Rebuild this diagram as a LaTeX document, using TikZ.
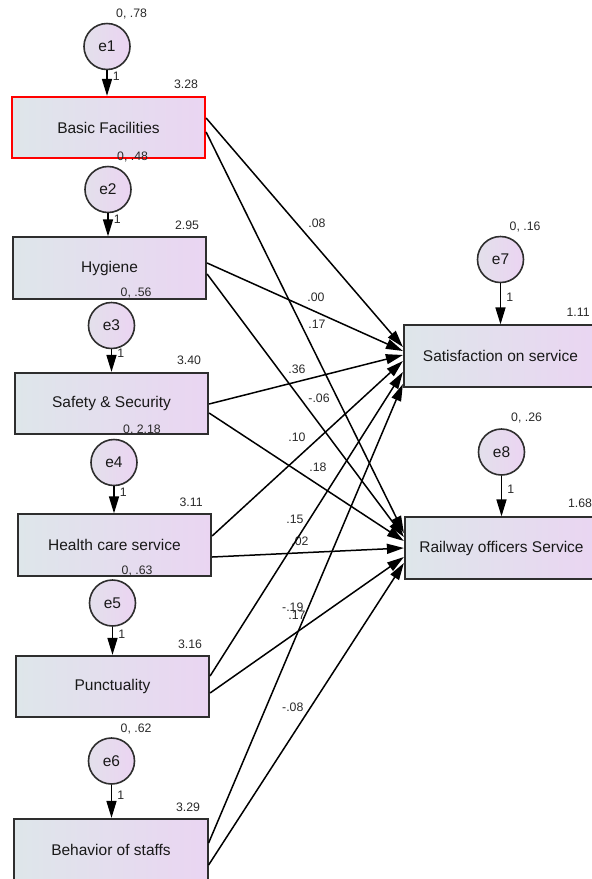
\documentclass[tikz,border=0pt]{standalone}
\usepackage{fontspec}
\setmainfont{Liberation Sans}
\usetikzlibrary{arrows.meta}

\definecolor{boxleft}{HTML}{DEE6EA}
\definecolor{boxright}{HTML}{EAD5F2}
\definecolor{circleft}{HTML}{E3E0EB}
\definecolor{circright}{HTML}{EBD4F2}
\definecolor{rimgray}{HTML}{2E2E2E}
\definecolor{valgray}{HTML}{2A2A2A}

\tikzset{
  obs/.style={draw=rimgray, line width=1.7pt, left color=boxleft, right color=boxright,
    minimum width=193.5pt, minimum height=61.5pt, inner sep=0pt, text=black!90,
    font=\fontsize{15.5}{18}\selectfont},
  err/.style={circle, draw=rimgray, line width=1.6pt, left color=circleft, right color=circright,
    minimum size=46pt, inner sep=0pt, text=black!90, font=\fontsize{15.5}{18}\selectfont},
  reg/.style={line width=1.5pt, -{Triangle[length=17pt,width=10pt]}},
  val/.style={font=\fontsize{12.3}{14}\selectfont, text=valgray, inner sep=0pt,
    text height=8.8pt, text depth=0pt},
}

\begin{document}
\begin{tikzpicture}[x=1pt,y=-1pt]
\clip (0,0) rectangle (592,879);

% observed variables
\node[obs, draw=red] (bf) at (108.5,127.5) {Basic Facilities};
\node[obs] (hyg) at (109.5,268) {Hygiene};
\node[obs] (ss) at (111.5,403.5) {Safety \& Security};
\node[obs] (hcs) at (114.5,545) {Health care service};
\node[obs] (pun) at (112.5,686.5) {Punctuality};
\node[obs] (bos) at (111,849.5) {Behavior of staffs};
\node[obs] (sat) at (500.5,356) {Satisfaction on service};
\node[obs] (rail) at (501.5,548) {Railway officers Service};

% error terms
\node[err] (e1) at (107,46.5) {e1};
\node[err] (e2) at (108,189.5) {e2};
\node[err] (e3) at (111.5,325.5) {e3};
\node[err] (e4) at (114,462.5) {e4};
\node[err] (e5) at (112.5,603) {e5};
\node[err] (e6) at (111.5,761) {e6};
\node[err] (e7) at (500.5,259.5) {e7};
\node[err] (e8) at (501.5,452) {e8};

\draw[reg] (e1) -- node[val, pos=.22, anchor=west, xshift=5pt] {1} (e1 |- bf.north);
\draw[reg] (e2) -- node[val, pos=.24, anchor=west, xshift=5pt] {1} (e2 |- hyg.north);
\draw[reg] (e3) -- node[val, pos=.18, anchor=west, xshift=5pt] {1} (e3 |- ss.north);
\draw[reg] (e4) -- node[val, pos=.22, anchor=west, xshift=5pt] {1} (e4 |- hcs.north);
\draw[reg] (e5) -- node[val, pos=.25, anchor=west, xshift=5pt] {1} (e5 |- pun.north);
\draw[reg] (e6) -- node[val, pos=.30, anchor=west, xshift=5pt] {1} (e6 |- bos.north);
\draw[reg] (e7) -- node[val, pos=.33, anchor=west, xshift=5pt] {1} (e7 |- sat.north);
\draw[reg] (e8) -- node[val, pos=.32, anchor=west, xshift=5pt] {1} (e8 |- rail.north);

% variances of the error terms
\node[val, anchor=west] (v1) at ([xshift=9pt,yshift=33.5pt]e1.center) {0, .78};
\node[val, anchor=west] (v2) at ([xshift=9pt,yshift=33.5pt]e2.center) {0, .48};
\node[val, anchor=west] (v3) at ([xshift=9pt,yshift=33.5pt]e3.center) {0, .56};
\node[val, anchor=west] (v4) at ([xshift=9pt,yshift=33.5pt]e4.center) {0, 2.18};
\node[val, anchor=west] (v5) at ([xshift=9pt,yshift=33pt]e5.center) {0, .63};
\node[val, anchor=west] (v6) at ([xshift=9pt,yshift=33pt]e6.center) {0, .62};
\node[val, anchor=west] (v7) at ([xshift=9pt,yshift=33.5pt]e7.center) {0, .16};
\node[val, anchor=west] (v8) at ([xshift=9.5pt,yshift=35pt]e8.center) {0, .26};

% intercepts
\node[val] (m1) at ([xshift=-20pt,yshift=12pt]bf.north east) {3.28};
\node[val] (m2) at ([xshift=-20pt,yshift=11pt]hyg.north east) {2.95};
\node[val] (m3) at ([xshift=-20pt,yshift=11.5pt]ss.north east) {3.40};
\node[val] (m4) at ([xshift=-21pt,yshift=11pt]hcs.north east) {3.11};
\node[val] (m5) at ([xshift=-20pt,yshift=11pt]pun.north east) {3.16};
\node[val] (m6) at ([xshift=-20.5pt,yshift=11pt]bos.north east) {3.29};
\node[val] (m7) at ([xshift=-20pt,yshift=12pt]sat.north east) {1.11};
\node[val] (m8) at ([xshift=-19pt,yshift=13pt]rail.north east) {1.68};

% regression paths
\draw[reg] ([yshift=9.5pt]bf.east) -- node[val, xshift=12.5pt, yshift=9.5pt] {.08} ([yshift=9pt]sat.west);
\draw[reg] ([yshift=-4.5pt]bf.east) -- node[val, xshift=12pt, yshift=8.5pt] {.17} ([yshift=15pt]rail.west);
\draw[reg] ([yshift=5pt]hyg.east) -- node[val, xshift=11pt, yshift=10pt] {.00} ([yshift=5pt]sat.west);
\draw[reg] ([yshift=-6pt]hyg.east) -- node[val, xshift=13.5pt, yshift=7.5pt] {-.06} ([yshift=11pt]rail.west);
\draw[reg] ([yshift=-0.5pt]ss.east) -- node[val, xshift=-9pt, yshift=10.5pt] {.36} ([yshift=1pt]sat.west);
\draw[reg] ([yshift=-9.5pt]ss.east) -- node[val, xshift=11.5pt, yshift=10pt] {.18} ([yshift=7pt]rail.west);
\draw[reg] ([yshift=9pt]hcs.east) -- node[val, xshift=-10.5pt, yshift=11.5pt] {.10} ([yshift=-5pt]sat.west);
\draw[reg] ([yshift=-12pt]hcs.east) -- node[val, xshift=-8pt, yshift=11.5pt] {.02} (rail.west);
\draw[reg] ([yshift=10.5pt]pun.east) -- node[val, xshift=-11.5pt, yshift=5pt] {.15} ([yshift=-16pt]sat.west);
\draw[reg] ([yshift=-6.5pt]pun.east) -- node[val, xshift=-10pt, yshift=10pt] {.17} ([yshift=-9pt]rail.west);
\draw[reg] ([yshift=6.5pt]bos.east) -- node[val, xshift=-13pt, yshift=6.5pt] {-.19} ([yshift=-28pt]sat.west);
\draw[reg] ([yshift=-15.5pt]bos.east) -- node[val, xshift=-13.5pt, yshift=7pt] {-.08} ([yshift=-15pt]rail.west);

\end{tikzpicture}
\end{document}
